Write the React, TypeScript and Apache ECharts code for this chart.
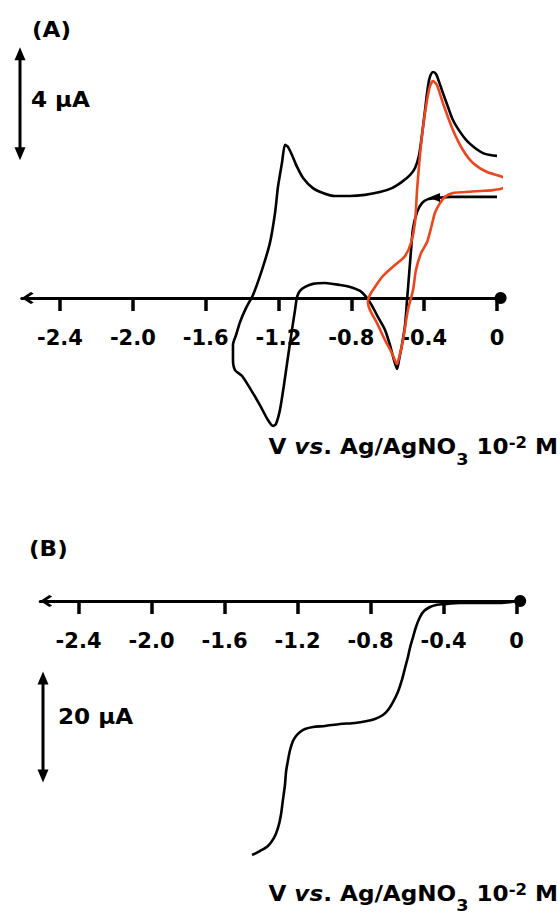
import React, { useEffect, useRef } from 'react';
import * as echarts from 'echarts';

const FONT = '"DejaVu Sans", sans-serif';
const RED = '#EB461E';

// x axis (V vs Ag/AgNO3)
const X_MIN = -2.61;
const X_MAX = 0.02;
const xTicks = [-2.4, -2.0, -1.6, -1.2, -0.8, -0.4, 0];

// Panel A, black CV (V, µA)
const cvBlackV = [0.000,-0.148,-0.258,-0.330,-0.379,-0.412,-0.439,-0.461,-0.472,-0.483,
  -0.494,-0.505,-0.522,-0.538,-0.549,-0.566,-0.588,-0.615,-0.654,-0.686,
  -0.714,-0.752,-0.807,-0.862,-0.945,-1.011,-1.054,-1.082,-1.098,-1.109,
  -1.126,-1.148,-1.170,-1.192,-1.214,-1.230,-1.258,-1.302,-1.357,-1.400,
  -1.439,-1.450,-1.450,-1.433,-1.411,-1.378,-1.340,-1.291,-1.247,-1.219,
  -1.203,-1.181,-1.164,-1.148,-1.126,-1.098,-1.065,-1.011,-0.956,-0.890,
  -0.807,-0.725,-0.643,-0.577,-0.522,-0.478,-0.450,-0.428,-0.412,-0.395,
  -0.384,-0.373,-0.362,-0.351,-0.335,-0.318,-0.297,-0.269,-0.242,-0.203,
  -0.165,-0.121,-0.077,-0.038,0.000];
const cvBlackI = [3.58,3.58,3.58,3.54,3.50,3.36,3.04,2.48,1.70,0.81,
  -0.07,-0.96,-1.66,-2.19,-2.51,-2.19,-1.66,-1.13,-0.67,-0.28,
  0,0.25,0.39,0.46,0.53,0.50,0.39,0.25,0.04,-0.42,
  -1.13,-2.09,-3.08,-3.96,-4.46,-4.53,-4.32,-3.79,-3.19,-2.76,
  -2.55,-2.19,-1.66,-1.31,-0.85,-0.35,0.11,0.99,1.95,3.01,
  3.93,4.78,5.42,5.35,5.06,4.64,4.25,3.89,3.72,3.61,
  3.61,3.65,3.75,3.89,4.11,4.35,4.60,5.06,5.77,6.66,
  7.26,7.72,7.93,8.00,7.93,7.65,7.26,6.76,6.30,5.88,
  5.56,5.31,5.13,5.06,5.03];

// Panel A, red CV (V, µA)
const cvRedV = [0.055,0.033,-0.022,-0.093,-0.176,-0.242,-0.286,-0.313,-0.341,-0.362,
  -0.384,-0.417,-0.445,-0.461,-0.489,-0.516,-0.538,-0.549,-0.577,-0.615,
  -0.659,-0.698,-0.709,-0.698,-0.670,-0.626,-0.560,-0.505,-0.472,-0.450,
  -0.439,-0.423,-0.406,-0.384,-0.368,-0.351,-0.330,-0.297,-0.242,-0.187,
  -0.132,-0.055,0.017,0.049,0.055];
const cvRedI = [4.07,3.89,3.82,3.79,3.75,3.72,3.58,3.36,3.01,2.48,
  1.98,1.59,0.99,0.28,-0.42,-1.49,-2.12,-2.34,-1.95,-1.49,
  -0.89,-0.42,-0.14,0.11,0.39,0.78,1.17,1.49,1.95,2.69,
  3.82,5.06,6.05,7.01,7.50,7.68,7.54,6.90,5.95,5.24,
  4.78,4.46,4.32,4.21,4.07];

// scan direction arrow on the black CV
const scanArrow = [-0.343, 3.56];

// Panel B, linear sweep (V, µA)
const lsvV = [0.015,-0.091,-0.200,-0.310,-0.392,-0.441,-0.474,-0.507,-0.529,-0.551,
  -0.567,-0.584,-0.595,-0.611,-0.628,-0.650,-0.677,-0.704,-0.732,-0.776,
  -0.819,-0.885,-0.967,-1.050,-1.115,-1.159,-1.186,-1.208,-1.225,-1.241,
  -1.252,-1.263,-1.269,-1.280,-1.291,-1.307,-1.329,-1.362,-1.406,-1.449];
const lsvI = [0,-0.36,-0.36,-0.36,-0.54,-0.72,-1.08,-1.80,-2.88,-4.68,
  -6.49,-8.47,-10.09,-12.07,-14.23,-16.40,-18.20,-19.64,-20.54,-21.26,
  -21.62,-21.98,-22.16,-22.52,-22.70,-23.06,-23.60,-24.32,-25.23,-26.85,
  -28.65,-30.81,-33.15,-35.86,-38.56,-40.90,-42.70,-44.14,-45.05,-45.77];

// scale bars (µA)
const scaleBarA = { from: 8.88, span: 4, label: '4 μA' };
const scaleBarB = { from: -12.7, span: 20, label: '20 μA' };

const CHEVRON = 'path://M50,0L100,76L87,100L50,42L13,100L0,76Z';

// grid geometry: A (y -5..8.5 µA), B (y -50..4 µA)
const GRID_A = { left: 21.76, top: 57.875, width: 478.87, height: 381.375 };
const GRID_B = { left: 40.2, top: 578.8, width: 479.98, height: 299.7 };
const Y_A = [-5, 8.5];
const Y_B = [-50, 4];

const zip = (a: number[], b: number[]) => a.map((v, i) => [v, b[i]]);

export default function App() {
  const ref = useRef<HTMLDivElement>(null);
  useEffect(() => {
    const chart = echarts.init(ref.current!, null, { renderer: 'svg' });
    // offset that brings the bottom axis up to the zero-current line
    const zeroOffset = (g: { height: number }, y: number[]) => -(g.height * (0 - y[0])) / (y[1] - y[0]);
    const xAxis = (gridIndex: number, offset: number) => ({
      type: 'value',
      gridIndex,
      min: X_MIN,
      max: X_MAX,
      position: 'bottom',
      offset,
      axisLine: {
        onZero: false,
        lineStyle: { color: '#000', width: 3 },
        symbol: [CHEVRON, 'circle'],
        symbolSize: [12, 12],
        symbolOffset: [6, 0],
      },
      axisTick: {
        show: true,
        inside: false,
        length: 13,
        customValues: xTicks,
        lineStyle: { color: '#000', width: 3.5 },
      },
      axisLabel: {
        customValues: xTicks,
        formatter: (v: number) => (Math.abs(v) < 1e-9 ? '0' : v.toFixed(1)),
        margin: 29,
        color: '#000',
        fontFamily: FONT,
        fontWeight: 'bold',
        fontSize: 21,
      },
      splitLine: { show: false },
    });
    const yAxis = (gridIndex: number, y: number[]) => ({
      type: 'value',
      gridIndex,
      min: y[0],
      max: y[1],
      show: false,
      splitLine: { show: false },
    });
    chart.setOption({
      animation: false,
      backgroundColor: '#fff',
      grid: [
        { ...GRID_A, outerBoundsMode: 'none' },
        { ...GRID_B, outerBoundsMode: 'none' },
      ],
      xAxis: [xAxis(0, zeroOffset(GRID_A, Y_A)), xAxis(1, zeroOffset(GRID_B, Y_B))],
      yAxis: [yAxis(0, Y_A), yAxis(1, Y_B)],
      series: [
        {
          type: 'line',
          xAxisIndex: 0,
          yAxisIndex: 0,
          data: zip(cvBlackV, cvBlackI),
          showSymbol: false,
          smooth: 0.25,
          clip: false,
          lineStyle: { color: '#000', width: 2.6 },
          z: 3,
          markPoint: {
            silent: true,
            symbol: 'triangle',
            symbolSize: [9, 11],
            symbolRotate: 90,
            itemStyle: { color: '#000' },
            label: { show: false },
            data: [{ coord: scanArrow }],
          },
        },
        {
          type: 'line',
          xAxisIndex: 0,
          yAxisIndex: 0,
          data: zip(cvRedV, cvRedI),
          showSymbol: false,
          smooth: 0.25,
          clip: false,
          lineStyle: { color: RED, width: 2.6 },
          z: 4,
        },
        {
          type: 'line',
          xAxisIndex: 1,
          yAxisIndex: 1,
          data: zip(lsvV, lsvI),
          showSymbol: false,
          smooth: 0.25,
          clip: false,
          lineStyle: { color: '#000', width: 2.6 },
          z: 3,
        },
      ],
    });

    const bar = (gi: number, px: number, from: number, span: number) => {
      const y1 = (chart.convertToPixel({ gridIndex: gi } as any, [0, from]) as number[])[1];
      const y2 = (chart.convertToPixel({ gridIndex: gi } as any, [0, from - span]) as number[])[1];
      return [
        { type: 'line', shape: { x1: px, y1: y1 + 10, x2: px, y2: y2 - 10 }, style: { stroke: '#000', lineWidth: 3 } },
        { type: 'polygon', shape: { points: [[px, y1], [px - 5.5, y1 + 13], [px + 5.5, y1 + 13]] }, style: { fill: '#000' } },
        { type: 'polygon', shape: { points: [[px, y2], [px - 5.5, y2 - 13], [px + 5.5, y2 - 13]] }, style: { fill: '#000' } },
      ];
    };
    const txt = (x: number, y: number, text: string) => ({
      type: 'text',
      x,
      y,
      scaleX: 1.1,
      style: {
        text,
        fill: '#000',
        fontFamily: FONT,
        fontWeight: 'bold',
        fontSize: 21,
        align: 'left',
        verticalAlign: 'middle',
      },
    });
    const richBase = { fontFamily: FONT, fontWeight: 'bold', fill: '#000' };
    const title = (y: number) => ({
      type: 'text',
      x: 558,
      y,
      scaleX: 1.1,
      style: {
        text: '{n|V }{i|vs}{n|. Ag/AgNO}{sub|3}{n| 10}{sup|-2}{n| M}',
        fill: '#000',
        align: 'right',
        verticalAlign: 'middle',
        fontFamily: FONT,
        fontWeight: 'bold',
        fontSize: 21,
        rich: {
          n: { ...richBase, fontSize: 21 },
          i: { ...richBase, fontSize: 21, fontStyle: 'italic' },
          sub: { ...richBase, fontSize: 16, padding: [24, 0, 0, 0] },
          sup: { ...richBase, fontSize: 15, padding: [0, 0, 8, 0] },
        },
      },
    });

    chart.setOption({
      graphic: {
        elements: [
          txt(32, 30, '(A)'),
          txt(31, 100, scaleBarA.label),
          ...bar(0, 20, scaleBarA.from, scaleBarA.span),
          title(447),
          txt(29, 549, '(B)'),
          txt(58, 717, scaleBarB.label),
          ...bar(1, 43, scaleBarB.from, scaleBarB.span),
          title(893.5),
        ],
      },
    });

    return () => chart.dispose();
  }, []);
  return (
    <div
      ref={ref}
      style={{ position: 'absolute', left: 0, top: 0, width: 560, height: 917, background: '#fff' }}
    />
  );
}
